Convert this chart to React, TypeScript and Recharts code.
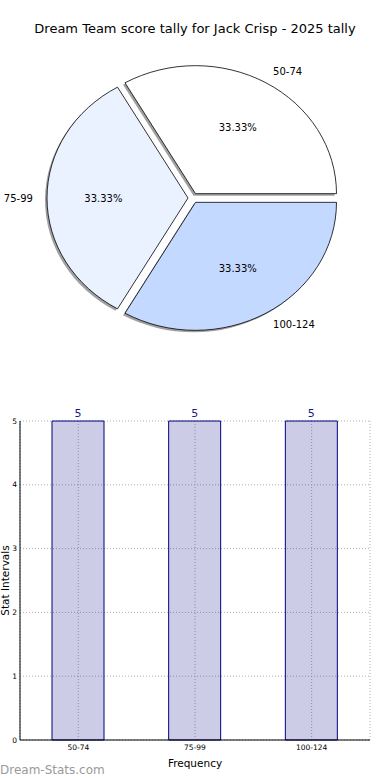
import React from 'react';
import {
  PieChart,
  Pie,
  BarChart,
  Bar,
  XAxis,
  YAxis,
  CartesianGrid,
  LabelList,
} from 'recharts';

// score intervals
const intervals = ['50-74', '75-99', '100-124'];
const counts = [5, 5, 5];
const sliceColors = ['#ffffff', '#eaf1ff', '#c4d9ff'];
const yTicks = [0, 1, 2, 3, 4, 5];

const pieData = intervals.map((name, i) => ({ name, value: counts[i], fill: sliceColors[i] }));
const barData = intervals.map((name, i) => ({ name, count: counts[i] }));

const FONT = '"DejaVu Sans", Verdana, sans-serif';
const RAD = Math.PI / 180;
const EXPLODE = 5;
const Y_RATIO = 128 / 141; // pie is drawn a bit squashed

function wedgePath(cx: number, cy: number, r: number, start: number, end: number, mid: number) {
  const ox = cx + EXPLODE * Math.cos(mid * RAD);
  const oy = cy - EXPLODE * Math.sin(mid * RAD);
  const ry = r * Y_RATIO;
  const sx = ox + r * Math.cos(start * RAD);
  const sy = oy - ry * Math.sin(start * RAD);
  const ex = ox + r * Math.cos(end * RAD);
  const ey = oy - ry * Math.sin(end * RAD);
  const large = Math.abs(end - start) > 180 ? 1 : 0;
  return `M${ox},${oy} L${sx},${sy} A${r},${ry} 0 ${large} 0 ${ex},${ey} Z`;
}

function ShadowShape(props: any) {
  const { cx, cy, outerRadius, startAngle, endAngle, midAngle } = props;
  return (
    <path
      d={wedgePath(cx, cy, outerRadius, startAngle, endAngle, midAngle)}
      transform="translate(-2,2)"
      fill="#808080"
      fillOpacity={0.75}
      stroke="none"
    />
  );
}

function WedgeShape(props: any) {
  const { cx, cy, outerRadius, startAngle, endAngle, midAngle, fill } = props;
  return (
    <path
      d={wedgePath(cx, cy, outerRadius, startAngle, endAngle, midAngle)}
      fill={fill}
      stroke="#000"
      strokeWidth={0.8}
      strokeLinejoin="round"
    />
  );
}

function PieLabel(props: any) {
  const { cx, cy, outerRadius, midAngle, percent, name } = props;
  const ox = cx + EXPLODE * Math.cos(midAngle * RAD);
  const oy = cy - EXPLODE * Math.sin(midAngle * RAD);
  const c = Math.cos(midAngle * RAD);
  const s = Math.sin(midAngle * RAD);
  const ry = outerRadius * Y_RATIO;
  return (
    <g>
      <text
        x={ox + 0.6 * outerRadius * c}
        y={oy - 0.6 * ry * s}
        textAnchor="middle"
        dominantBaseline="central"
        fontSize={10}
        fontFamily={FONT}
        fill="#000"
      >
        {(percent * 100).toFixed(2)}%
      </text>
      <text
        x={ox + 1.1 * outerRadius * c}
        y={oy - 1.1 * ry * s}
        textAnchor={c >= 0 ? 'start' : 'end'}
        dominantBaseline="central"
        fontSize={10}
        fontFamily={FONT}
        fill="#000"
      >
        {name}
      </text>
    </g>
  );
}

export default function App() {
  return (
    <div style={{ position: 'absolute', left: 0, top: 0, width: 390, height: 780, background: '#fff', fontFamily: FONT }}>
      <div style={{ position: 'absolute', top: 21, left: 0, width: 390, textAlign: 'center', fontSize: 13, color: '#000' }}>
        Dream Team score tally for Jack Crisp - 2025 tally
      </div>

      <div style={{ position: 'absolute', top: 0, left: 0 }}>
        <PieChart width={390} height={360} margin={{ top: 0, right: 0, bottom: 0, left: 0 }}>
          {/* shadows first so they sit under every wedge */}
          <Pie
            data={pieData}
            dataKey="value"
            nameKey="name"
            cx={193}
            cy={198}
            outerRadius={141}
            startAngle={0}
            endAngle={360}
            shape={ShadowShape}
            stroke="none"
            isAnimationActive={false}
          />
          <Pie
            data={pieData}
            dataKey="value"
            nameKey="name"
            cx={193}
            cy={198}
            outerRadius={141}
            startAngle={0}
            endAngle={360}
            shape={WedgeShape}
            label={PieLabel}
            labelLine={false}
            isAnimationActive={false}
          />
        </PieChart>
      </div>

      <div style={{ position: 'absolute', top: 400, left: 0 }}>
        <BarChart width={390} height={380} data={barData} margin={{ top: 21, right: 20, bottom: 0, left: 0 }}>
          <CartesianGrid stroke="#b0b0b0" strokeDasharray="1 2" />
          <XAxis
            dataKey="name"
            height={40}
            interval={0}
            tick={{ fontSize: 7.5, fill: '#000', fontFamily: FONT }}
            tickLine={false}
            tickSize={0}
            tickMargin={5}
            axisLine={{ stroke: '#000' }}
            label={{ value: 'Frequency', position: 'insideBottom', offset: 13, fontSize: 10.5, fill: '#000', fontFamily: FONT }}
          />
          <XAxis xAxisId="top" dataKey="name" orientation="top" height={0} tick={false} tickLine={false} axisLine={{ stroke: '#000' }} />
          <YAxis
            width={20}
            domain={[0, 5]}
            ticks={yTicks}
            interval={0}
            tick={{ fontSize: 7.5, fill: '#000', fontFamily: FONT }}
            tickLine={false}
            tickSize={0}
            tickMargin={3}
            axisLine={{ stroke: '#000' }}
            label={{ value: 'Stat Intervals', angle: -90, position: 'insideLeft', offset: 5, fontSize: 10.5, fill: '#000', fontFamily: FONT, style: { textAnchor: 'middle' } }}
          />
          <YAxis yAxisId="right" orientation="right" width={0} domain={[0, 5]} tick={false} tickLine={false} axisLine={{ stroke: '#000' }} />
          <Bar dataKey="count" barSize={52} fill="#000080" fillOpacity={0.2} stroke="#000080" strokeWidth={1} isAnimationActive={false}>
            <LabelList dataKey="count" position="top" offset={4} fontSize={11} fill="#1a1a8c" fontFamily={FONT} />
          </Bar>
        </BarChart>
      </div>

      <div style={{ position: 'absolute', left: 0, top: 763, fontSize: 12, color: '#9a9a9a', fontFamily: FONT }}>
        Dream-Stats.com
      </div>
    </div>
  );
}
